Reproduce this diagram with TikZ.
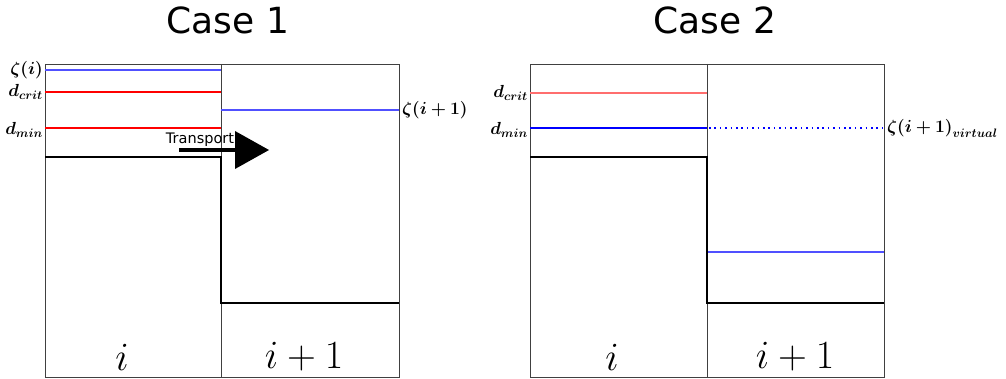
\RequirePackage{fix-cm}
\documentclass[tikz,border=0pt]{standalone}
\usepackage{amsmath}
\usepackage{bm}
\usepackage{fontspec}
\newfontfamily\titlefont{DejaVu Sans}
\definecolor{lvred}{RGB}{255,0,0}
\definecolor{lvredl}{RGB}{255,110,110}
\definecolor{lvblue}{RGB}{80,80,255}
\definecolor{lvbluedk}{RGB}{0,0,255}
\begin{document}
\begin{tikzpicture}[x=1pt,y=-1pt,
  frame/.style={draw=black!75,line width=0.9pt},
  bed/.style={draw=black,line width=2.8pt},
  lvlred/.style={draw=lvred,line width=1.1pt},
  lvlredlight/.style={draw=lvredl,line width=1.4pt},
  lvlblue/.style={draw=lvblue,line width=1.5pt},
  lvlbluedark/.style={draw=lvbluedk,line width=1.3pt},
  virt/.style={draw=lvbluedk,line width=1.5pt,dash pattern=on 1.5pt off 3.9pt},
  lbl/.style={inner sep=0pt,font=\fontsize{17.5}{17.5}\selectfont},
  celllbl/.style={inner sep=0pt,font=\fontsize{40}{40}\selectfont},
  ttl/.style={inner sep=0pt,font=\titlefont\fontsize{36}{36}\selectfont}]
\useasboundingbox (0,0) rectangle (1006,379);
% ---------- Case 1 ----------
\node[ttl] (t1) at (228,20) {Case 1};
\draw[frame] (45,64) rectangle (399,377);
\draw[frame] (221,64) -- (221,377);
\draw[lvlblue] (45,70) -- (221,70);
\draw[lvlred] (45,92) -- (221,92);
\draw[lvlred] (45,128) -- (221,128);
\draw[lvlblue] (221,110) -- (399,110);
\draw[bed] (45,157) -- (221,157) -- (221,303) -- (399,303);
\node[lbl,anchor=east] (z1) at (43,70) {$\bm{\zeta(i)}$};
\node[lbl,anchor=east] (dc1) at (43,92) {$\bm{d_{crit}}$};
\node[lbl,anchor=east] (dm1) at (43,130) {$\bm{d_{min}}$};
\node[lbl,anchor=west] (z2) at (402,110) {$\bm{\zeta(i+1)}$};
\node[inner sep=0pt,font=\titlefont\fontsize{14.5}{14.5}\selectfont] (tr) at (200,140) {Transport};
\coordinate (as) at (179,150);
\coordinate (ae) at (236,150);
\draw[line width=4pt] (as) -- (ae);
\fill (235,131) -- (269,150) -- (235,169) -- cycle;
\node[celllbl] (c1) at (122,357) {$i$};
\node[celllbl] (c2) at (304,357) {$i+1$};
% ---------- Case 2 ----------
\node[ttl] (t2) at (715,20) {Case 2};
\draw[frame] (530,64) rectangle (884,377);
\draw[frame] (707,64) -- (707,377);
\draw[lvlredlight] (530,93) -- (707,93);
\draw[lvlbluedark] (530,128) -- (707,128);
\draw[virt] (709,128) -- (884,128);
\draw[lvlblue] (707,252) -- (884,252);
\draw[bed] (530,157) -- (707,157) -- (707,303) -- (884,303);
\node[lbl,anchor=east] (dc2) at (528,93) {$\bm{d_{crit}}$};
\node[lbl,anchor=east] (dm2) at (528,130) {$\bm{d_{min}}$};
\node[lbl,anchor=west] (zv) at (887,128) {$\bm{\zeta(i+1)_{virtual}}$};
\node[celllbl] (c3) at (612,357) {$i$};
\node[celllbl] (c4) at (795,357) {$i+1$};
\end{tikzpicture}
\end{document}
